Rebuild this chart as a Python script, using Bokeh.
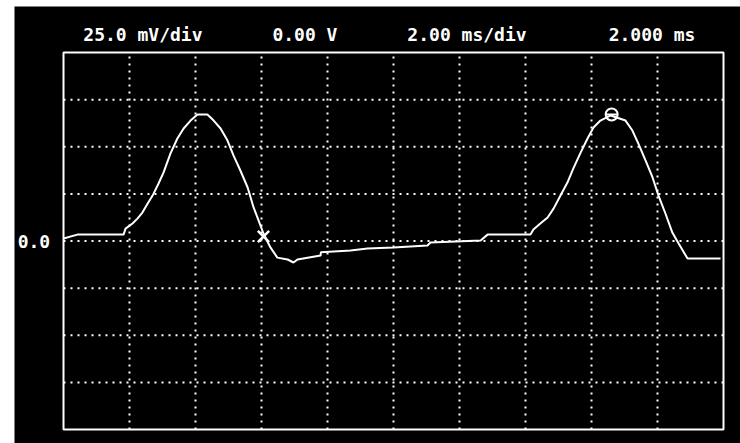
import numpy as np
from bokeh.plotting import figure
from bokeh.models import Range1d
from bokeh.core.properties import value
from bokeh.embed import file_html
from bokeh.resources import INLINE

# Scope settings
volts_per_div_mv = 25.0
time_per_div_ms = 2.0
n_xdiv, n_ydiv = 10, 8

# Captured trace: time (ms from left edge of screen) and amplitude (mV)
t_ms = [0.00, 0.42, 1.82, 1.88, 2.09, 2.24, 2.39, 2.55, 2.70, 2.88, 3.03, 3.24,
        3.45, 3.64, 3.85, 4.06, 4.36, 4.55, 4.76, 4.97, 5.15, 5.36, 5.58, 5.76,
        5.91, 6.06, 6.27, 6.48, 6.79, 6.97, 7.09, 7.79, 7.80, 8.70, 9.21, 10.00,
        11.03, 11.12, 12.64, 12.85, 14.15, 14.24, 14.45, 14.67, 14.85, 15.06,
        15.27, 15.45, 15.67, 15.88, 16.06, 16.27, 16.58, 17.03, 17.24, 17.42,
        17.64, 17.85, 18.03, 18.24, 18.45, 18.64, 18.91, 19.91]
v_mv = [1.3, 3.4, 3.4, 6.6, 9.3, 11.9, 15.1, 19.9, 24.1, 30.5, 36.3, 46.4,
        54.4, 59.7, 63.9, 67.1, 67.1, 63.9, 59.7, 53.3, 45.4, 37.4, 28.4, 17.8,
        10.9, 4.0, -3.4, -8.8, -9.8, -11.4, -9.8, -7.7, -6.0, -5.0, -4.0, -3.4,
        -2.4, -0.8, 0.3, 3.4, 3.4, 6.1, 9.3, 12.5, 17.2, 24.1,
        31.0, 38.5, 46.9, 54.4, 60.2, 63.9, 66.6, 63.9, 58.6, 51.7,
        42.7, 33.7, 24.1, 14.6, 4.5, -1.3, -9.3, -9.3]

# Cursor markers
cursor_x = [6.06]
cursor_v = [2.4]
theta_x = [16.61]
theta_v = [67.1]

# Header readouts
header_texts = ["25.0 mV/div", "0.00 V", "2.00 ms/div", "2.000 ms"]
header_pos_ms = [0.60, 6.33, 10.42, 16.52]
ref_label = "0.0"

x_span = n_xdiv * time_per_div_ms
y_half = n_ydiv / 2 * volts_per_div_mv

# The plotting area covers the whole instrument screen, including the
# readout strip above the graticule and the reference label on the left.
p = figure(width=726, height=437, output_backend="svg", toolbar_location=None,
           x_range=Range1d(-1.485, 20.515), y_range=Range1d(-107.4, 124.4),
           x_axis_location=None, y_axis_location=None,
           min_border=0)
p.margin = (6, 0, 0, 14)
p.background_fill_color = "black"
p.border_fill_color = "black"
p.outline_line_color = None
p.grid.visible = False

mono = value("DejaVu Sans Mono")

# Dotted graticule, one line per division
gx = np.arange(1, n_xdiv) * time_per_div_ms
gy = (np.arange(1, n_ydiv) - n_ydiv / 2) * volts_per_div_mv
p.segment(x0=gx, y0=-y_half, x1=gx, y1=y_half, line_color="white",
          line_width=2, line_dash="2 5")
p.segment(x0=0, y0=gy, x1=x_span, y1=gy, line_color="white",
          line_width=2, line_dash="2 5")

# Solid graticule border
p.quad(left=0, right=x_span, bottom=-y_half, top=y_half, fill_color=None,
       line_color="white", line_width=2)

p.line(t_ms, v_mv, line_color="white", line_width=2)

p.scatter(cursor_x, cursor_v, marker="x", size=16, line_color="white", line_width=2.5)
p.scatter(theta_x, theta_v, marker="circle", size=12, fill_color=None,
          line_color="white", line_width=2)
p.scatter(theta_x, theta_v, marker="dash", size=12, line_color="white", line_width=2)

header_y = [y_half + 9.5] * len(header_texts)
p.text(x=header_pos_ms, y=header_y, text=header_texts, text_color="white",
       text_font=mono, text_font_size="18px", text_font_style="bold",
       text_baseline="middle", text_align="left")

p.text(x=[-1.39], y=[0], text=[ref_label], text_color="white",
       text_font=mono, text_font_size="18px", text_font_style="bold",
       text_baseline="middle", text_align="left")

open("out.html", "w").write(file_html(p, INLINE))
